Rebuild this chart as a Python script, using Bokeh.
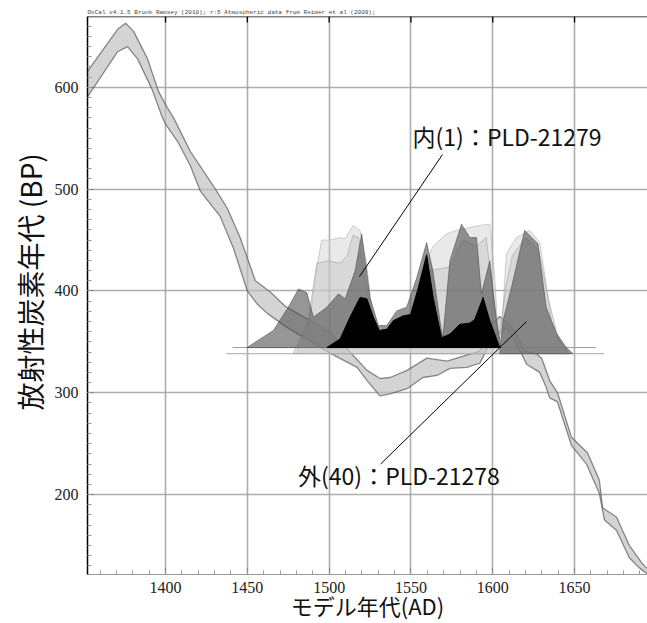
import numpy as np
from bokeh.plotting import figure
from bokeh.models import Range1d, Span, ColumnDataSource, SingleIntervalTicker, Label, Title
from bokeh.core.properties import value
from bokeh.embed import file_html
from bokeh.resources import INLINE

# ---------------- data ----------------
# calibration curve band (upper and lower 1-sigma edges), cal AD vs BP
cal_upper_year = [1352.4, 1370.7, 1375.6, 1380.5, 1389.0, 1395.7, 1400.0, 1404.9, 1415.2, 1430.5,
                  1437.8, 1445.7, 1454.9, 1464.0, 1473.2, 1480.5, 1488.4, 1500.6, 1511.0, 1523.2,
                  1531.1, 1537.2, 1547.6, 1559.8, 1572.0, 1586.0, 1592.1, 1600.0, 1604.3, 1612.2,
                  1616.5, 1619.5, 1626.8, 1629.9, 1634.8, 1639.6, 1648.2, 1657.9, 1665.2, 1667.1,
                  1675.6, 1683.5, 1691.5, 1694.6]
cal_upper_bp = [616, 657, 663, 655, 628, 596, 583, 570, 537, 500,
                481, 452, 410, 399, 385, 378, 371, 359, 343, 322,
                314, 315, 322, 334, 331, 338, 341, 368, 375, 364,
                351, 341, 338, 334, 312, 300, 256, 241, 214, 187,
                178, 150, 132, 127]
cal_lower_year = [1352.4, 1370.7, 1376.8, 1382.9, 1391.5, 1398.2, 1400.0, 1407.3, 1415.2, 1421.3,
                  1433.5, 1441.5, 1450.0, 1456.1, 1462.2, 1474.4, 1488.4, 1500.6, 1517.1, 1523.2,
                  1531.1, 1537.2, 1547.6, 1557.3, 1565.9, 1573.8, 1584.1, 1592.1, 1600.0, 1608.5,
                  1613.4, 1618.3, 1620.7, 1628.7, 1632.3, 1634.8, 1639.6, 1648.2, 1657.3, 1665.2,
                  1668.3, 1675.6, 1683.5, 1689.6, 1694.6]
cal_lower_bp = [591, 635, 640, 628, 599, 570, 564, 547, 523, 498,
                473, 442, 400, 387, 378, 364, 351, 339, 325, 312,
                297, 299, 304, 315, 317, 324, 325, 329, 354, 364,
                351, 336, 328, 320, 307, 295, 291, 248, 230, 201,
                175, 165, 138, 128, 122]

# probability distributions (relative probability)
lik1_year = [1480, 1488.4, 1492.1, 1495.5, 1500.6, 1506.7, 1509.8, 1514.6, 1518.9, 1522.6,
             1526.2, 1529.9, 1535, 1540, 1550, 1556, 1561.6, 1563.6, 1571.8, 1577.9,
             1592.1, 1598.2, 1601.2, 1603.3, 1605, 1608.4, 1614.5, 1622.6, 1628.7, 1632.3,
             1636.0, 1640.9, 1646]
lik1_prob = [0, 0.30, 0.68, 0.93, 0.93, 0.95, 0.94, 1.05, 1.01, 0.76,
             0.35, 0.19, 0.16, 0.20, 0.30, 0.45, 0.82, 0.88, 0.98, 1.01,
             1.05, 1.06, 0.63, 0.14, 0.12, 0.82, 0.95, 1.01, 0.91, 0.60,
             0.27, 0.11, 0]

lik2_year = [1478, 1487, 1492.5, 1499.4, 1506.7, 1511, 1514.6, 1518, 1522, 1527,
             1533, 1545, 1555, 1561.6, 1573.8, 1581.7, 1590, 1596, 1600, 1604,
             1608, 1612, 1620, 1628, 1634, 1640, 1647]
lik2_prob = [0, 0.25, 0.74, 0.76, 0.74, 0.80, 0.97, 0.95, 0.60, 0.25,
             0.15, 0.25, 0.40, 0.68, 0.71, 0.93, 0.88, 0.95, 0.50, 0.12,
             0.55, 0.80, 0.95, 0.85, 0.45, 0.12, 0]

post_in_year = [1449.8, 1465.9, 1475, 1481.3, 1486.4, 1490.4, 1498.6, 1505.7, 1509.8, 1515.9,
                1519.9, 1525, 1530.1, 1535.2, 1541.3, 1547.4, 1553.5, 1559.6, 1563.4, 1567.7,
                1569.5, 1573.8, 1580.9, 1586, 1590.1, 1593.1, 1598.2, 1602.3, 1605]
post_in_prob = [0, 0.14, 0.33, 0.48, 0.45, 0.25, 0.33, 0.44, 0.40, 0.63,
                0.93, 0.41, 0.18, 0.18, 0.30, 0.33, 0.57, 0.86, 0.63, 0.22,
                0.08, 0.71, 1.01, 0.90, 0.90, 0.44, 0.71, 0.22, 0]

post_out_year = [1604.3, 1606.3, 1611.4, 1619.5, 1627.6, 1632.7, 1638.8, 1645, 1649]
post_out_prob = [0, 0.27, 0.54, 1.01, 0.90, 0.38, 0.17, 0.05, 0]

model_year = [1498.6, 1506.7, 1512.8, 1518.9, 1523, 1527, 1530.7, 1535.2, 1539.2, 1545.3,
              1549.8, 1554.5, 1559.6, 1563.6, 1568.7, 1573.8, 1579.9, 1586, 1589, 1594.1,
              1598.2, 1604.3]
model_prob = [0, 0.07, 0.25, 0.41, 0.40, 0.25, 0.14, 0.15, 0.22, 0.26,
              0.27, 0.49, 0.76, 0.41, 0.08, 0.11, 0.19, 0.20, 0.23, 0.41,
              0.22, 0]

x_ticks = [1400, 1450, 1500, 1550, 1600, 1650]
y_ticks = [200, 300, 400, 500, 600]

label_inner = "内(1)：PLD-21279"
label_outer = "外(40)：PLD-21278"
title_text = "OxCal v4.1.5 Bronk Ramsey (2010); r:5 Atmospheric data from Reimer et al (2009);"
x_title = "モデル年代(AD)"
y_title = "放射性炭素年代 (BP)"

# ---------------- layout constants ----------------
X0, X1 = 1352.3, 1694.6
Y0, Y1 = 121.5, 669.6
BASE1 = 344.4   # baseline of inner distributions
BASE2 = 338.4   # baseline of outer distributions
SCALE = 120.0   # BP units per unit probability
JP = "Noto Sans CJK JP"

p = figure(width=647, height=623, x_range=Range1d(X0, X1), y_range=Range1d(Y0, Y1),
           output_backend="svg", toolbar_location=None,
           min_border_left=87, min_border_right=0, min_border_top=16, min_border_bottom=49)
p.outline_line_color = None
p.background_fill_color = "white"

# title (small OxCal credit line)
p.title.text = title_text
p.title.text_font = "Liberation Mono"
p.title.text_font_size = "6px"
p.title.text_font_style = "normal"
p.title.text_color = "#444444"
p.title.standoff = 2
p.title.offset = 0
p.title.align = "left"

# y axis title (starts above the frame bottom, as in the original)
p.add_layout(Title(text=y_title, text_font=JP, text_font_size="28px", text_font_style="normal",
                   text_color="#111111", align="left", offset=164, standoff=4), "left")

# grid
p.xgrid.ticker = x_ticks
p.ygrid.ticker = y_ticks
for g in (p.xgrid, p.ygrid):
    g.grid_line_color = "#a0a0a0"
    g.grid_line_width = 1.6
    g.grid_line_alpha = 0.85

# calibration band
band_x = list(cal_upper_year) + list(reversed(cal_lower_year))
band_y = list(cal_upper_bp) + list(reversed(cal_lower_bp))
p.patch(band_x, band_y, fill_color="#bdbdbd", fill_alpha=0.65, line_color=None)
p.line(cal_upper_year, cal_upper_bp, line_color="#5a5a5a", line_alpha=0.7, line_width=1.3)
p.line(cal_lower_year, cal_lower_bp, line_color="#5a5a5a", line_alpha=0.7, line_width=1.3)

# baselines
p.line([1441, 1663], [BASE1, BASE1], line_color="#9a9a9a", line_width=1)
p.line([1437, 1668], [BASE2, BASE2], line_color="#a8a8a8", line_width=1)


def dist(years, prob, base, fill, alpha, line, line_alpha):
    ys = [base + SCALE * v for v in prob]
    xs = list(years) + [years[-1], years[0]]
    yy = ys + [base, base]
    p.patch(xs, yy, fill_color=fill, fill_alpha=alpha, line_color=line,
            line_alpha=line_alpha, line_width=1)


dist(lik1_year, lik1_prob, BASE2, "#cfcfcf", 0.45, "#b0b0b0", 0.6)
dist(lik2_year, lik2_prob, BASE2, "#c4c4c4", 0.45, "#a0a0a0", 0.6)
dist(post_in_year, post_in_prob, BASE1, "#505050", 0.6, "#404040", 0.5)
dist(post_out_year, post_out_prob, BASE2, "#505050", 0.6, "#404040", 0.5)
dist(model_year, model_prob, BASE1, "#000000", 1.0, "#000000", 1.0)

# annotation lines
seg = ColumnDataSource(dict(x0=[1569.3, 1620.6], y0=[534.0, 369.9],
                            x1=[1518.5, 1531.5], y1=[414.0, 230.1]))
p.segment("x0", "y0", "x1", "y1", source=seg, line_color="black", line_width=1)

p.add_layout(Label(x=1551, y=552, text=label_inner, text_font=JP, text_font_size="23px",
                   text_baseline="middle", text_align="left", text_color="#111111"))
p.add_layout(Label(x=1481, y=219, text=label_outer, text_font=JP, text_font_size="23px",
                   text_baseline="middle", text_align="left", text_color="#111111"))

# top frame line with inward major ticks
p.add_layout(Span(location=Y1, dimension="width", line_color="black", line_width=1.5))
top_ticks = ColumnDataSource(dict(x=x_ticks, y0=[Y1] * len(x_ticks), y1=[Y1 - 6] * len(x_ticks)))
p.segment("x", "y0", "x", "y1", source=top_ticks, line_color="black", line_width=1.3)

# axes
xa = p.xaxis[0]
xa.ticker = SingleIntervalTicker(interval=50, num_minor_ticks=5)
xa.axis_line_color = "#9a9a9a"
xa.major_tick_in = 6
xa.major_tick_out = 0
xa.minor_tick_in = 4
xa.minor_tick_out = 0
xa.major_tick_line_color = "#777777"
xa.minor_tick_line_color = "#999999"
xa.major_label_text_font = "Liberation Serif"
xa.major_label_text_font_size = "16px"
xa.major_label_text_color = "#222222"
xa.major_label_standoff = 7
xa.axis_label = x_title
xa.axis_label_text_font = JP
xa.axis_label_text_font_size = "22px"
xa.axis_label_text_font_style = "normal"
xa.axis_label_text_color = "#111111"
xa.axis_label_standoff = -7

ya = p.yaxis[0]
ya.ticker = SingleIntervalTicker(interval=100, num_minor_ticks=10)
ya.axis_line_color = "black"
ya.axis_line_width = 1.5
ya.major_tick_in = 6
ya.major_tick_out = 0
ya.minor_tick_in = 4
ya.minor_tick_out = 0
ya.major_tick_line_color = "#777777"
ya.minor_tick_line_color = "#999999"
ya.major_label_text_font = "Liberation Serif"
ya.major_label_text_font_size = "16px"
ya.major_label_text_color = "#222222"
ya.major_label_standoff = 9

open("out.html", "w").write(file_html(p, INLINE))
